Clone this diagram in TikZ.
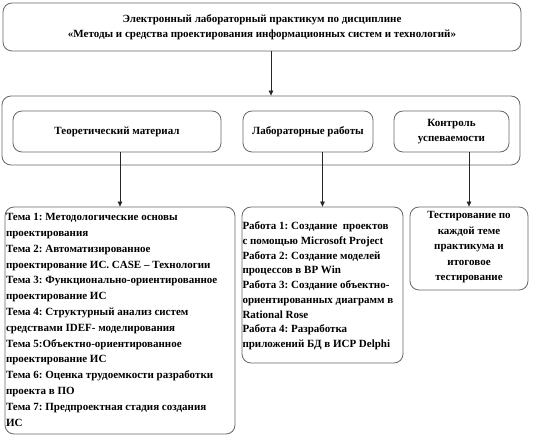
\documentclass[tikz,border=0pt]{standalone}
\usepackage{fontspec}
\setmainfont{Liberation Serif}
\usetikzlibrary{arrows.meta}
\frenchspacing
\tikzset{
  box/.style={draw=black!60, line width=0.8pt, rounded corners=9pt, inner sep=0pt,
    font=\bfseries\fontsize{11}{15}\selectfont},
  conn/.style={draw=black!85, line width=0.7pt, -{Triangle[length=5pt,width=4.5pt]}}
}
\begin{document}
\begin{tikzpicture}[x=1pt,y=-1pt]
\useasboundingbox (0,0) rectangle (543,438);
\node[box, minimum width=518pt, minimum height=48pt, align=center] (top) at (262,27)
  {\frenchspacing Электронный лабораторный практикум по дисциплине\\«Методы и средства проектирования информационных систем и технологий»};
\node[box, minimum width=518pt, minimum height=69pt] (frame) at (261,130.5) {};
\node[box, minimum width=208pt, minimum height=41pt] (theory) at (117,131.5) {Теоретический материал};
\node[box, minimum width=130pt, minimum height=41pt] (lab) at (308,131.5) {Лабораторные работы};
\node[box, minimum width=115pt, minimum height=41pt, align=center] (ctrl) at (451.5,131.5) {Контроль\\успеваемости};
\node[box, minimum width=230pt, minimum height=227pt] (list1) at (120,320.5)
  {\parbox[c][227pt][t]{228pt}{\raggedright\frenchspacing\fontsize{11}{15.8}\selectfont\vspace*{6.5pt}%
  Тема 1: Методологические основы\\
  проектирования\\
  Тема 2: Автоматизированное\\
  проектирование ИС. CASE – Технологии\\
  Тема 3: Функционально-ориентированное\\
  проектирование ИС\\
  Тема 4: Структурный анализ систем\\
  средствами IDEF- моделирования\\
  Тема 5:Объектно-ориентированное\\
  проектирование ИС\\
  Тема 6: Оценка трудоемкости разработки\\
  проекта в ПО\\
  Тема 7: Предпроектная стадия создания\\
  ИС}};
\node[box, minimum width=161pt, minimum height=156pt] (list2) at (322.5,285)
  {\parbox[c][156pt][t]{160pt}{\raggedright\frenchspacing\fontsize{11}{14.7}\selectfont\vspace*{15pt}%
  Работа 1: Создание\ \ проектов\\
  с помощью Microsoft Project\\
  Работа 2: Создание моделей\\
  процессов в BP Win\\
  Работа 3: Создание объектно-\\
  ориентированных диаграмм в\\
  Rational Rose\\
  Работа 4: Разработка\\
  приложений БД в ИСР Delphi}};
\node[box, minimum width=118pt, minimum height=83pt] (list3) at (469,248.5)
  {\parbox[c][83pt][t]{116pt}{\centering\fontsize{11}{15.5}\selectfont\vspace*{4.5pt}%
  Тестирование по\\
  каждой теме\\
  практикума и\\
  итоговое\\
  тестирование}};
\coordinate (c1) at (271,0);
\draw[conn] (top.south -| c1) -- (frame.north -| c1);
\draw[conn] (theory.south -| list1.north) -- (list1.north);
\draw[conn] (lab.south -| list2.north) -- (list2.north);
\draw[conn] (ctrl.south -| list3.north) -- (list3.north);
\end{tikzpicture}
\end{document}
